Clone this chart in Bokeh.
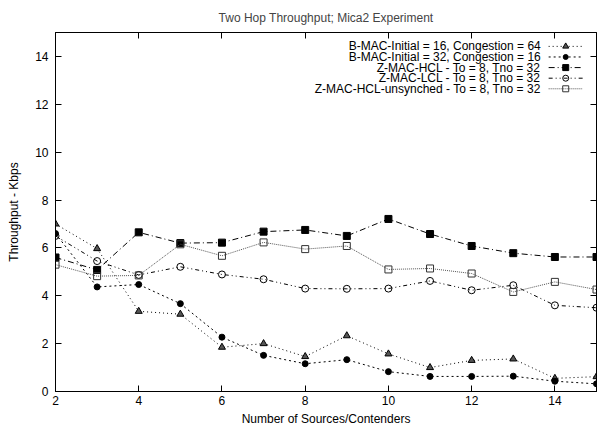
from bokeh.plotting import figure
from bokeh.models import Range1d, FixedTicker, LinearAxis, Label
from bokeh.embed import file_html
from bokeh.resources import INLINE

# ---- data ----
x = [2, 3, 4, 5, 6, 7, 8, 9, 10, 11, 12, 13, 14, 15]
bmac_16_64 = [7.0, 5.97, 3.35, 3.23, 1.85, 2.0, 1.46, 2.33, 1.57, 1.0, 1.3, 1.36, 0.55, 0.62]
bmac_32_16 = [6.6, 4.37, 4.47, 3.67, 2.27, 1.51, 1.16, 1.33, 0.83, 0.63, 0.63, 0.64, 0.43, 0.32]
zmac_hcl = [5.6, 5.08, 6.65, 6.2, 6.22, 6.68, 6.75, 6.5, 7.21, 6.58, 6.08, 5.78, 5.62, 5.62]
zmac_lcl = [6.5, 5.45, 4.87, 5.21, 4.89, 4.69, 4.3, 4.29, 4.3, 4.62, 4.23, 4.44, 3.6, 3.5]
zmac_unsync = [5.3, 4.82, 4.85, 6.15, 5.67, 6.23, 5.95, 6.08, 5.1, 5.14, 4.93, 4.16, 4.58, 4.26]

labels = [
    "B-MAC-Initial = 16, Congestion = 64",
    "B-MAC-Initial = 32, Congestion = 16",
    "Z-MAC-HCL - To = 8, Tno = 32",
    "Z-MAC-LCL - To = 8, Tno = 32",
    "Z-MAC-HCL-unsynched - To = 8, Tno = 32",
]
series = [bmac_16_64, bmac_32_16, zmac_hcl, zmac_lcl, zmac_unsync]
x_ticks = [2, 4, 6, 8, 10, 12, 14]
y_ticks = [0, 2, 4, 6, 8, 10, 12, 14]

# ---- styles ----
styles = [
    dict(marker="triangle", dash="1 3", color="black", fcolor="#555555", lcolor="black", fill=True, size=7),
    dict(marker="circle", dash="2 3", color="black", fcolor="black", lcolor="black", fill=True, size=6),
    dict(marker="square", dash="6 3 1 3", color="black", fcolor="black", lcolor="black", fill=True, size=7),
    dict(marker="circle", dash="4 3 1 3 1 3", color="black", fcolor="white", lcolor="black", fill=False, size=7),
    dict(marker="square", dash="1 1", color="#333333", fcolor="white", lcolor="#555555", fill=False, size=7),
]

FONT = "Liberation Sans"

p = figure(width=601, height=428, output_backend="svg", toolbar_location=None,
           x_range=Range1d(2, 15), y_range=Range1d(0, 15),
           min_border_left=55, min_border_right=5, min_border_top=0, min_border_bottom=0,
           title="Two Hop Throughput; Mica2 Experiment")
p.grid.visible = False
p.outline_line_color = "black"
p.outline_line_width = 1
p.background_fill_color = "white"
p.border_fill_color = "white"

p.title.text_font = FONT
p.title.text_font_size = "12px"
p.title.text_font_style = "normal"
p.title.align = "center"
p.title.standoff = 16

for ax in (p.xaxis[0], p.yaxis[0]):
    ax.major_tick_in = 6
    ax.major_tick_out = 0
    ax.minor_tick_in = 0
    ax.minor_tick_out = 0
    ax.axis_line_color = "black"
    ax.major_tick_line_color = "black"
    ax.major_label_text_font = FONT
    ax.major_label_text_font_size = "12px"
    ax.major_label_text_color = "black"
    ax.axis_label_text_font = FONT
    ax.axis_label_text_font_size = "12px"
    ax.axis_label_text_font_style = "normal"
    ax.axis_label_text_color = "black"

p.xaxis[0].ticker = FixedTicker(ticks=x_ticks)
p.yaxis[0].ticker = FixedTicker(ticks=y_ticks)
p.xaxis[0].axis_label = "Number of Sources/Contenders"
p.yaxis[0].axis_label = "Throughput - Kbps"
p.xaxis[0].major_label_standoff = 4
p.xaxis[0].axis_label_standoff = 4
p.yaxis[0].major_label_standoff = 7
p.yaxis[0].axis_label_standoff = 11

# mirrored ticks (minor ticks only, so no labels)
mirror = dict(major_tick_in=0, major_tick_out=0, minor_tick_in=6, minor_tick_out=0,
              minor_tick_line_color="black", major_label_standoff=0, axis_label_standoff=0,
              axis_line_color="black")
top = LinearAxis(ticker=FixedTicker(ticks=[], minor_ticks=x_ticks), **mirror)
right = LinearAxis(ticker=FixedTicker(ticks=[], minor_ticks=y_ticks), **mirror)
p.add_layout(top, "above")
p.add_layout(right, "right")

# series
for ys, st in zip(series, styles):
    p.line(x, ys, line_color=st["lcolor"], line_width=1, line_dash=st["dash"])
    p.scatter(x, ys, marker=st["marker"], size=st["size"], line_color=st["color"],
              fill_color=st["fcolor"], fill_alpha=1.0 if st["fill"] else 0.0, line_width=1)

# legend (gnuplot style: right-aligned text, sample on the right)
leg_text_x = 13.66
leg_x0, leg_x1, leg_xm = 13.85, 14.67, 14.26
leg_y0, leg_dy = 14.42, 0.443
for i, (lab, st) in enumerate(zip(labels, styles)):
    yy = leg_y0 - i * leg_dy
    p.add_layout(Label(x=leg_text_x, y=yy, text=lab, text_align="right", text_baseline="middle",
                       text_font=FONT, text_font_size="12px", text_color="black"))
    p.line([leg_x0, leg_x1], [yy, yy], line_color=st["lcolor"], line_width=1, line_dash=st["dash"])
    p.scatter([leg_xm], [yy], marker=st["marker"], size=st["size"] - 1, line_color=st["color"],
              fill_color=st["fcolor"], fill_alpha=1.0 if st["fill"] else 0.0, line_width=1)

open("out.html", "w").write(file_html(p, INLINE))
